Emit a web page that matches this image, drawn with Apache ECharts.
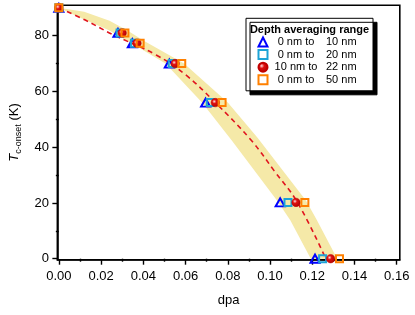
<!DOCTYPE html>
<html><head><meta charset="utf-8">
<script src="https://cdn.jsdelivr.net/npm/echarts@6/dist/echarts.min.js"></script>
<style>html,body{margin:0;padding:0;background:#fff}#c{width:415px;height:315px}</style>
</head><body><div id="c"></div><script>
// ---- data ----
const tcOnset = [90, 81, 77.3, 70, 56, 20.2, 0];
const dpa0to10 = [0, 0.0280, 0.0348, 0.0523, 0.0695, 0.1048, 0.1213];
const dpa0to20 = [0, 0.0290, 0.0358, 0.0537, 0.0717, 0.1085, 0.1249];
const dpa10to22 = [0, 0.0300, 0.0370, 0.0551, 0.0741, 0.1123, 0.1287];
const dpa0to50 = [0, 0.0313, 0.0385, 0.0582, 0.0773, 0.1165, 0.1329];
const seriesNames = ['0 nm to 10 nm', '0 nm to 20 nm', '10 nm to 22 nm', '0 nm to 50 nm'];
const legendTitle = 'Depth averaging range';

const fitDpa = [0, 0.0125, 0.0253, 0.0463, 0.060, 0.0741, 0.0912, 0.102, 0.113, 0.1264];
const fitT   = [90, 85.6, 80.5, 73.0, 66.0, 56.0, 42.4, 31.5, 20.2, 0];

const bandLeftDpa = [0, 0.009, 0.0235, 0.034, 0.0505, 0.0678, 0.0819, 0.1033, 0.1096, 0.1193];
const bandLeftT   = [90, 86.8, 82.0, 77.5, 70.0, 56.0, 42.4, 20.9, 13.8, 0];
const bandRightDpa = [0, 0.012, 0.024, 0.0327, 0.0398, 0.0593, 0.080, 0.094, 0.117, 0.1221, 0.1318];
const bandRightT   = [90, 88.6, 85.4, 81.8, 78.4, 70.0, 56.0, 43.5, 20.9, 14.0, 0];

const xMajorTicks = [0, 0.02, 0.04, 0.06, 0.08, 0.10, 0.12, 0.14, 0.16];
const xMinorTicks = [0.01, 0.03, 0.05, 0.07, 0.09, 0.11, 0.13, 0.15];
const yMajorTicks = [0, 20, 40, 60, 80];
const yMinorTicks = [10, 30, 50, 70, 90];

// ---- chart ----
const pair = (xs, ys) => xs.map((x, i) => [x, ys[i]]);
const chart = echarts.init(document.getElementById('c'), null, {renderer: 'canvas'});
const FONT = 'Liberation Sans, Arial, sans-serif';
const axisBase = {
  type: 'value', splitLine: {show: false},
  axisLine: {show: true, onZero: false, lineStyle: {color: '#000', width: 1.6}},
};
const bandPoly = pair(bandLeftDpa, bandLeftT).concat(pair(bandRightDpa, bandRightT).reverse());

const redBall = {
  type: 'radial', x: 0.38, y: 0.38, r: 0.75,
  colorStops: [{offset: 0, color: '#ffe0e0'}, {offset: 0.3, color: '#e01010'}, {offset: 1, color: '#a00000'}]
};

chart.setOption({
  animation: false,
  backgroundColor: '#fff',
  textStyle: {fontFamily: FONT},
  grid: {left: 53.5, right: 15.2, top: 5.2, bottom: 55.3, show: true, borderColor: '#000', borderWidth: 1.6, backgroundColor: 'transparent'},
  xAxis: [
    Object.assign({}, axisBase, {
      min: -0.0007, max: 0.16145, position: 'bottom',
      name: 'dpa', nameLocation: 'middle', nameGap: 34,
      nameTextStyle: {fontSize: 13, color: '#000', fontFamily: FONT},
      axisTick: {show: true, length: 5, customValues: xMajorTicks, lineStyle: {color: '#000', width: 1.4}},
      axisLabel: {show: true, customValues: xMajorTicks, margin: 10, fontSize: 13, color: '#000', fontFamily: FONT,
        formatter: v => v.toFixed(2)}
    }),
    Object.assign({}, axisBase, {
      min: -0.0007, max: 0.16145, position: 'bottom', axisLine: {show: false},
      axisTick: {show: true, length: 3, customValues: xMinorTicks, lineStyle: {color: '#000', width: 1.4}},
      axisLabel: {show: false}
    })
  ],
  yAxis: [
    Object.assign({}, axisBase, {
      min: -0.36, max: 90.94, position: 'left',
      name: '{t|T}{s|c-onset}{n| (K)}', nameLocation: 'middle', nameGap: 28, nameRotate: 90,
      nameTextStyle: {color: '#000', fontFamily: FONT, rich: {
        t: {fontSize: 13, fontStyle: 'italic', lineHeight: 18, verticalAlign: 'middle', fontFamily: FONT},
        s: {fontSize: 9, lineHeight: 9, verticalAlign: 'bottom', fontFamily: FONT},
        n: {fontSize: 13, lineHeight: 18, verticalAlign: 'middle', fontFamily: FONT}
      }},
      axisTick: {show: true, length: 5, customValues: yMajorTicks, lineStyle: {color: '#000', width: 1.4}},
      axisLabel: {show: true, customValues: yMajorTicks, margin: 8.5, fontSize: 13, color: '#000', fontFamily: FONT}
    }),
    Object.assign({}, axisBase, {
      min: -0.36, max: 90.94, position: 'left', axisLine: {show: false},
      axisTick: {show: true, length: 3, customValues: yMinorTicks, lineStyle: {color: '#000', width: 1.4}},
      axisLabel: {show: false}
    })
  ],
  legend: {
    data: seriesNames, orient: 'vertical', left: 257.5, top: 36.5, padding: 0,
    itemWidth: 9, itemHeight: 9, itemGap: 1.6, itemTextGap: 5, z: 10,
    textStyle: {fontSize: 11, color: '#000', fontFamily: FONT, rich: {
      a: {width: 47, align: 'right', fontSize: 11, lineHeight: 12, fontFamily: FONT},
      b: {fontSize: 11, lineHeight: 12, padding: [0, 0, 0, 6.5], fontFamily: FONT}
    }},
    formatter: n => { const p = n.split(' to '); return '{a|' + p[0] + ' to}{b|' + p[1] + '}'; }
  },
  graphic: [
    {type: 'rect', z: 8, shape: {x: 246, y: 18.3, width: 127, height: 72.5},
      style: {fill: '#fff', stroke: '#000', lineWidth: 1, shadowColor: '#000', shadowOffsetX: 4, shadowOffsetY: 4, shadowBlur: 0}},
    {type: 'text', z: 9, x: 309.5, y: 29.5,
      style: {text: legendTitle, font: 'bold 11px ' + FONT, fill: '#000', align: 'center', verticalAlign: 'middle'}}
  ],
  series: [
    {type: 'custom', xAxisIndex: 0, yAxisIndex: 0, silent: true, z: 1, data: [[0, 0]],
      renderItem: (params, api) => ({
        type: 'polygon',
        shape: {points: bandPoly.map(p => api.coord(p)), smooth: 0},
        style: {fill: '#f5e9a8', stroke: 'none'}
      })},
    {type: 'line', name: 'fit', xAxisIndex: 0, yAxisIndex: 0, data: pair(fitDpa, fitT), smooth: 0.4,
      showSymbol: false, symbol: 'none', z: 2,
      lineStyle: {color: '#e0141e', width: 1.6, type: [5, 4]}},
    {type: 'scatter', name: seriesNames[0], data: pair(dpa0to10, tcOnset), symbol: 'triangle', symbolSize: [9, 8], z: 3,
      itemStyle: {color: 'rgba(255,255,255,0)', borderColor: '#0000ff', borderWidth: 2, opacity: 1}},
    {type: 'scatter', name: seriesNames[1], data: pair(dpa0to20, tcOnset), symbol: 'rect', symbolSize: 7, z: 4,
      itemStyle: {color: 'rgba(255,255,255,0)', borderColor: '#1ea3d6', borderWidth: 2, opacity: 1}},
    {type: 'scatter', name: seriesNames[2], data: pair(dpa10to22, tcOnset), symbol: 'circle', symbolSize: 8.5, z: 5,
      itemStyle: {color: redBall, borderColor: '#c00000', borderWidth: 0.5, opacity: 1}},
    {type: 'scatter', name: seriesNames[3], data: pair(dpa0to50, tcOnset), symbol: 'rect', symbolSize: 7, z: 6,
      itemStyle: {color: 'rgba(255,255,255,0)', borderColor: '#ff8000', borderWidth: 2, opacity: 1}}
  ]
});
</script></body></html>
